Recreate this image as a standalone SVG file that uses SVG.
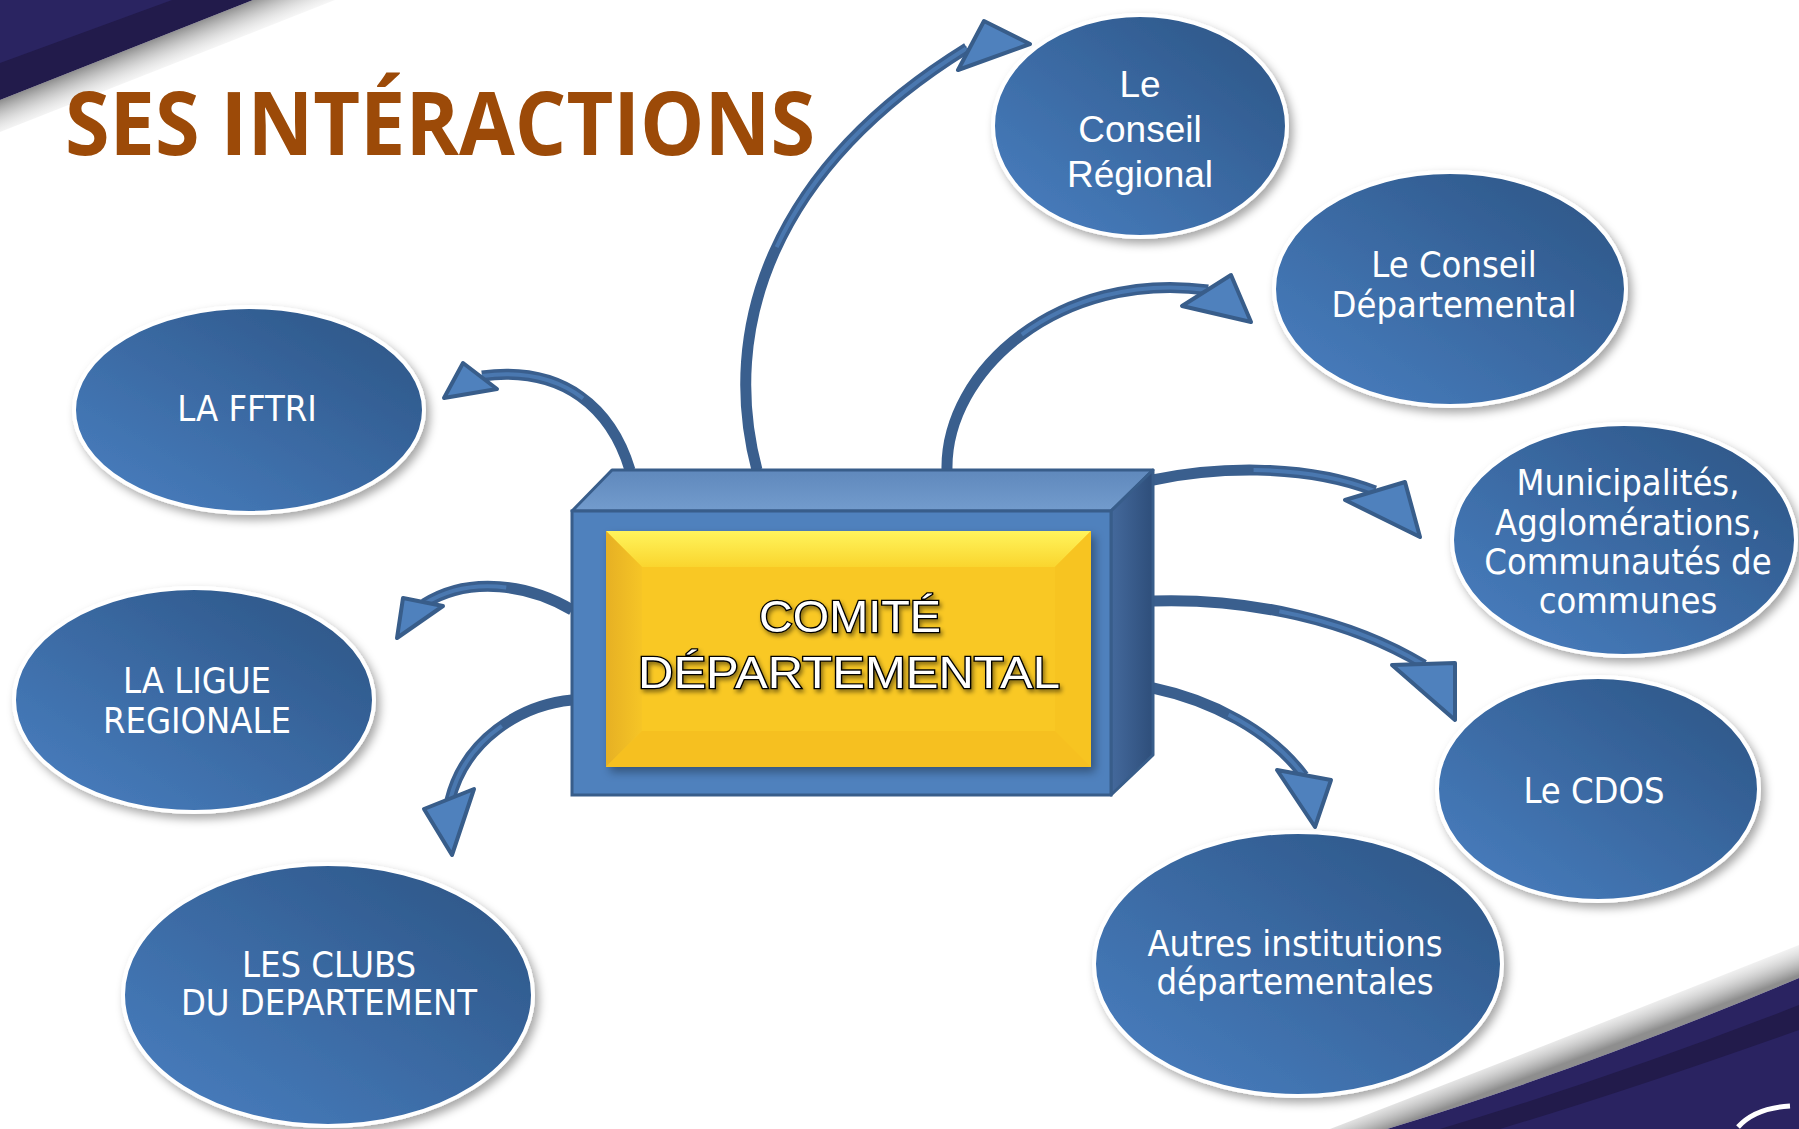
<svg xmlns="http://www.w3.org/2000/svg" width="1799" height="1129" viewBox="0 0 1799 1129">
<defs>
<linearGradient id="eg" x1="0" y1="1" x2="1" y2="0">
<stop offset="0" stop-color="#4A80C2"/>
<stop offset="1" stop-color="#2B5383"/>
</linearGradient>
<linearGradient id="rightFace" x1="0" y1="0" x2="1" y2="0">
<stop offset="0" stop-color="#44699C"/>
<stop offset="1" stop-color="#2E4E7A"/>
</linearGradient>
<linearGradient id="topFace" x1="0" y1="0" x2="0" y2="1">
<stop offset="0" stop-color="#5F88BC"/>
<stop offset="1" stop-color="#739CCD"/>
</linearGradient>
<linearGradient id="bevTop" x1="0" y1="0" x2="0" y2="1">
<stop offset="0" stop-color="#FFF45C"/>
<stop offset="1" stop-color="#FAD52E"/>
</linearGradient>
<linearGradient id="bevLeft" x1="0" y1="0" x2="1" y2="0">
<stop offset="0" stop-color="#E6B024"/>
<stop offset="1" stop-color="#F6C526"/>
</linearGradient>
<linearGradient id="shTL" gradientUnits="userSpaceOnUse" x1="126" y1="50" x2="142" y2="90">
<stop offset="0" stop-color="#8E8E8E"/>
<stop offset="1" stop-color="#FFFFFF" stop-opacity="0"/>
</linearGradient>
<linearGradient id="shBR" gradientUnits="userSpaceOnUse" x1="1600" y1="1050" x2="1585" y2="1010">
<stop offset="0" stop-color="#8E8E8E"/>
<stop offset="1" stop-color="#FFFFFF" stop-opacity="0"/>
</linearGradient>
<filter id="sh" x="-20%" y="-20%" width="140%" height="140%">
<feDropShadow dx="4" dy="5" stdDeviation="5" flood-color="#000" flood-opacity="0.35"/>
</filter>
<filter id="tsh" x="-10%" y="-20%" width="120%" height="140%">
<feDropShadow dx="2" dy="3" stdDeviation="2" flood-color="#000" flood-opacity="0.45"/>
</filter>
<style>
.ell{fill:url(#eg);stroke:#FFFFFF;stroke-width:4;filter:url(#sh)}
.lbl{font-family:"DejaVu Sans Condensed","DejaVu Sans",sans-serif;font-size:36px;fill:#FFFFFF;text-anchor:middle}
.lblA{font-family:"Liberation Sans",Arial,sans-serif;font-size:37px;fill:#FFFFFF;text-anchor:middle}
.shaft{fill:none;stroke:#3A5F8E;stroke-width:11;stroke-linecap:butt}
.shaftIn{fill:none;stroke:#4A78B0;stroke-width:4;stroke-dasharray:0 45 55}
.head{fill:#4F81BD;stroke:#385D8A;stroke-width:4;stroke-linejoin:round}
.cd{font-family:"Liberation Sans",Arial,sans-serif;font-size:45px;fill:#FFFFFF;stroke:#000000;stroke-width:2.6;paint-order:stroke;text-anchor:middle;filter:url(#tsh)}
</style>
</defs>
<rect width="1799" height="1129" fill="#FFFFFF"/>
<g id="background">
<polygon points="253,0 335,0 0,132 0,100" fill="url(#shTL)"/>
<polygon points="0,0 253,0 0,100" fill="#221B4B"/>
<polygon points="0,0 172,0 0,63" fill="#2A2461"/>
<path d="M1387,1129 Q1580,1070 1799,978 L1799,945 Q1560,1040 1330,1129 Z" fill="url(#shBR)"/>
<path d="M1387,1129 Q1580,1070 1799,978 L1799,1129 Z" fill="#2A2361"/>
<path d="M1440,1129 Q1620,1075 1799,1005 L1799,1030 Q1630,1090 1500,1129 Z" fill="#221B4B"/>
<path d="M1738,1127 Q1755,1108 1790,1106" fill="none" stroke="#FFFFFF" stroke-width="5"/>
</g>
<g id="title">
<text x="65" y="155" font-family="'Open Sans','Liberation Sans',sans-serif" font-weight="bold" font-size="87" fill="#9C4A08" textLength="750" lengthAdjust="spacingAndGlyphs">SES INTÉRACTIONS</text>
</g>
<g id="connectors">
<path class="shaft" d="M757,470 C720,330 770,170 967,48"/>
<path class="shaftIn" pathLength="100" d="M757,470 C720,330 770,170 967,48"/>
<path class="shaft" d="M947,470 C945,370 1060,270 1208,290"/>
<path class="shaftIn" pathLength="100" d="M947,470 C945,370 1060,270 1208,290"/>
<path class="shaft" d="M630,470 C612,410 565,365 482,376"/>
<path class="shaftIn" pathLength="100" d="M630,470 C612,410 565,365 482,376"/>
<path class="shaft" d="M572,610 C530,585 470,575 424,604"/>
<path class="shaftIn" pathLength="100" d="M572,610 C530,585 470,575 424,604"/>
<path class="shaft" d="M572,700 C520,705 465,740 450,800"/>
<path class="shaftIn" pathLength="100" d="M572,700 C520,705 465,740 450,800"/>
<path class="shaft" d="M1153,480 C1210,468 1300,462 1375,491"/>
<path class="shaftIn" pathLength="100" d="M1153,480 C1210,468 1300,462 1375,491"/>
<path class="shaft" d="M1153,601 C1250,598 1350,620 1424,665"/>
<path class="shaftIn" pathLength="100" d="M1153,601 C1250,598 1350,620 1424,665"/>
<path class="shaft" d="M1153,688 C1210,700 1270,730 1304,776"/>
<path class="shaftIn" pathLength="100" d="M1153,688 C1210,700 1270,730 1304,776"/>
<polygon class="head" points="1030,44 984,21 958,70"/>
<polygon class="head" points="1251,322 1231,275 1182,306"/>
<polygon class="head" points="444,398 463,363 497,389"/>
<polygon class="head" points="397,638 403,598 443,606"/>
<polygon class="head" points="452,855 424,809 474,789"/>
<polygon class="head" points="1420,537 1405,482 1345,500"/>
<polygon class="head" points="1455,720 1455,663 1392,665"/>
<polygon class="head" points="1315,827 1331,780 1277,770"/>
</g>
<g id="node-comite">
<polygon points="572,511 612,470 1153,470 1111,511" fill="url(#topFace)" stroke="#385D8A" stroke-width="3" stroke-linejoin="round"/>
<polygon points="1111,511 1153,470 1153,755 1111,795" fill="url(#rightFace)" stroke="#385D8A" stroke-width="3" stroke-linejoin="round"/>
<rect x="572" y="511" width="539" height="284" fill="#4F81BD" stroke="#385D8A" stroke-width="3"/>
<g filter="url(#sh)">
<rect x="606" y="531" width="485" height="236" fill="#F8C623"/>
</g>
<polygon points="606,531 1091,531 1055,567 642,567" fill="url(#bevTop)"/>
<polygon points="606,531 642,567 642,731 606,767" fill="url(#bevLeft)"/>
<polygon points="1091,531 1091,767 1055,731 1055,567" fill="#F7C421"/>
<polygon points="606,767 642,731 1055,731 1091,767" fill="#F6C020"/>
<rect x="642" y="567" width="413" height="164" fill="#F9C824"/>
<text class="cd" x="850" y="632" textLength="182" lengthAdjust="spacingAndGlyphs">COMITÉ</text>
<text class="cd" x="849" y="688" textLength="422" lengthAdjust="spacingAndGlyphs">DÉPARTEMENTAL</text>
</g>
<g id="node-conseil-regional">
<ellipse class="ell" cx="1140" cy="126" rx="147" ry="111"/>
<text class="lblA" x="1140" y="97">Le</text>
<text class="lblA" x="1140" y="142">Conseil</text>
<text class="lblA" x="1140" y="187">Régional</text>
</g>
<g id="node-conseil-departemental">
<ellipse class="ell" cx="1450" cy="289" rx="176" ry="117"/>
<text class="lbl" x="1454" y="277">Le Conseil</text>
<text class="lbl" x="1454" y="317">Départemental</text>
</g>
<g id="node-fftri">
<ellipse class="ell" cx="249" cy="410" rx="175" ry="103"/>
<text class="lbl" x="247" y="421">LA FFTRI</text>
</g>
<g id="node-municipalites">
<ellipse class="ell" cx="1624" cy="540" rx="172" ry="116"/>
<text class="lbl" x="1628" y="495">Municipalités,</text>
<text class="lbl" x="1628" y="535">Agglomérations,</text>
<text class="lbl" x="1628" y="574">Communautés de</text>
<text class="lbl" x="1628" y="613">communes</text>
</g>
<g id="node-ligue">
<ellipse class="ell" cx="194" cy="700" rx="180" ry="112"/>
<text class="lbl" x="197" y="693">LA LIGUE</text>
<text class="lbl" x="197" y="733">REGIONALE</text>
</g>
<g id="node-cdos">
<ellipse class="ell" cx="1598" cy="789" rx="161" ry="112"/>
<text class="lbl" x="1594" y="803">Le CDOS</text>
</g>
<g id="node-clubs">
<ellipse class="ell" cx="328" cy="995" rx="205" ry="131"/>
<text class="lbl" x="329" y="977">LES CLUBS</text>
<text class="lbl" x="329" y="1015">DU DEPARTEMENT</text>
</g>
<g id="node-autres">
<ellipse class="ell" cx="1298" cy="964" rx="204" ry="132"/>
<text class="lbl" x="1295" y="956">Autres institutions</text>
<text class="lbl" x="1295" y="994">départementales</text>
</g>
</svg>
